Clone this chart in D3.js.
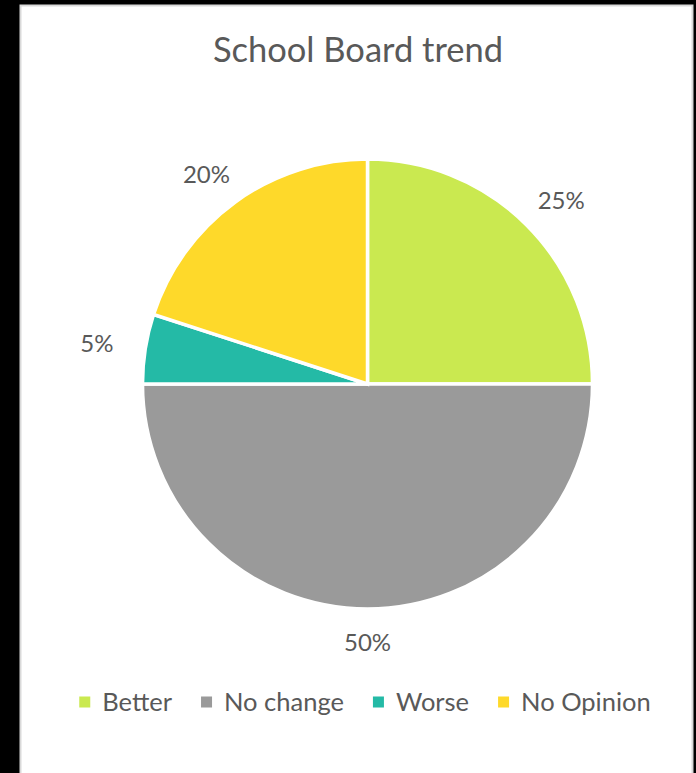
<!DOCTYPE html>
<html><head><meta charset="utf-8">
<script src="https://cdn.jsdelivr.net/npm/d3@7"></script>
<style>html,body{margin:0;padding:0;background:#000;}svg{display:block;}</style>
</head><body>
<script>
const categories = ["Better", "No change", "Worse", "No Opinion"];
const values = [25, 50, 5, 20];
const labels = ["25%", "50%", "5%", "20%"];
const colors = ["#CAE950", "#9A9A9A", "#24BAA6", "#FED92A"];
const title = "School Board trend";

const W = 696, H = 773;
const svg = d3.select("body").append("svg").attr("width", W).attr("height", H);
svg.append("rect").attr("width", W).attr("height", H).attr("fill", "#000");
svg.append("rect").attr("x", 20.5).attr("y", 5.5).attr("width", 672).attr("height", 800)
  .attr("fill", "#fff").attr("stroke", "#d9d9d9").attr("stroke-width", 2);

const font = "Lato, 'Open Sans', sans-serif";
const textColor = "#595959";

svg.append("text").attr("x", 358).attr("y", 62).attr("text-anchor", "middle")
  .attr("font-family", font).attr("font-size", 34.5).attr("fill", textColor).text(title);

const cx = 367.5, cy = 384, r = 225;
const pie = d3.pie().sort(null).value(d => d)(values);
const arc = d3.arc().innerRadius(0).outerRadius(r);
const g = svg.append("g").attr("transform", `translate(${cx},${cy})`);
g.selectAll("path").data(pie).join("path")
  .attr("d", arc).attr("fill", (d, i) => colors[i])
  .attr("stroke", "#fff").attr("stroke-width", 3.5).attr("stroke-linejoin", "miter");

const rx = r + 49, ry = r + 34;
g.selectAll("text.lbl").data(pie).join("text").attr("class", "lbl")
  .attr("x", d => rx * Math.sin((d.startAngle + d.endAngle) / 2))
  .attr("y", d => -ry * Math.cos((d.startAngle + d.endAngle) / 2))
  .attr("dy", "0.35em").attr("text-anchor", "middle")
  .attr("font-family", font).attr("font-size", 24).attr("fill", textColor)
  .text((d, i) => labels[i]);

// legend
const leg = svg.append("g");
const sq = 11, gapT = 12, gapI = 29, ly = 702;
const items = leg.selectAll("g").data(categories).join("g");
items.append("rect").attr("width", sq).attr("height", sq).attr("y", -sq / 2)
  .attr("fill", (d, i) => colors[i]);
items.append("text").attr("x", sq + gapT).attr("dy", "0.35em")
  .attr("font-family", font).attr("font-size", 25.5).attr("fill", textColor).text(d => d);
let x = 0;
const pos = [];
items.each(function () {
  const w = d3.select(this).select("text").node().getComputedTextLength();
  pos.push(x);
  x += sq + gapT + w + gapI;
});
const total = x - gapI;
const start = 365 - total / 2;
items.attr("transform", (d, i) => `translate(${start + pos[i]},${ly})`);
</script>
</body></html>
